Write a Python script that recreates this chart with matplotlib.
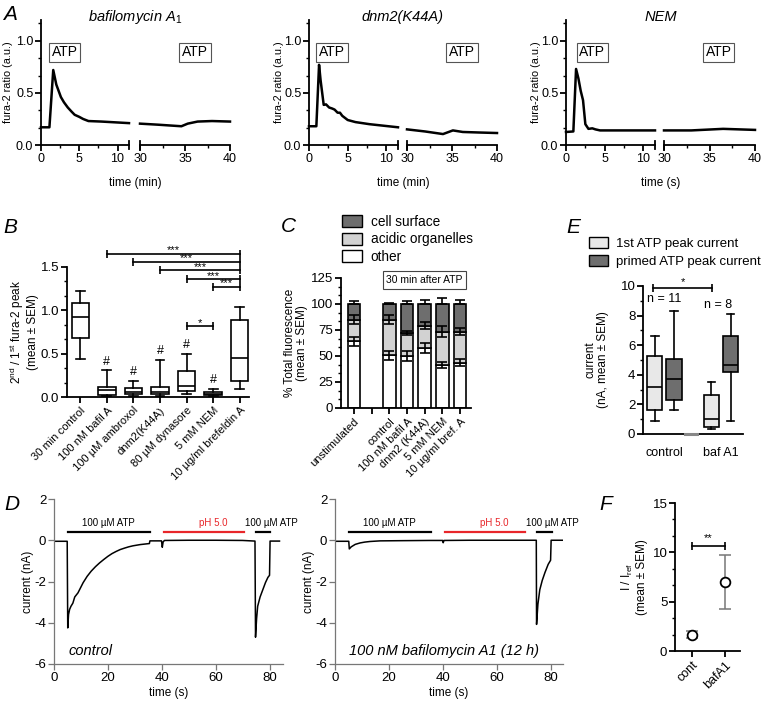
import numpy as np
import matplotlib.pyplot as plt
from matplotlib.patches import Patch
from matplotlib.ticker import MultipleLocator

plt.rcParams['font.family'] = ['Liberation Sans', 'DejaVu Sans']
plt.rcParams['mathtext.fontset'] = 'custom'
plt.rcParams['mathtext.rm'] = 'Liberation Sans'
plt.rcParams['mathtext.it'] = 'Liberation Sans:italic'
plt.rcParams['axes.unicode_minus'] = False
plt.rcParams['font.size'] = 8.5
plt.rcParams['axes.linewidth'] = 1.3
plt.rcParams['xtick.major.width'] = 1.3
plt.rcParams['ytick.major.width'] = 1.3
plt.rcParams['xtick.minor.width'] = 1.0
plt.rcParams['ytick.minor.width'] = 1.0
plt.rcParams['xtick.major.size'] = 4
plt.rcParams['ytick.major.size'] = 4
plt.rcParams['xtick.minor.size'] = 2.5
plt.rcParams['ytick.minor.size'] = 2.5
plt.rcParams['xtick.major.pad'] = 2
plt.rcParams['ytick.major.pad'] = 1.5

# ---- A: fura-2 ratio traces (time in min, ratio) ----
a_titles = ['bafilomycin A$_1$', 'dnm2(K44A)', 'NEM']
a_xlabels = ['time (min)', 'time (min)', 'time (s)']
a_t1 = [[0, 1.1, 1.6, 2.0, 2.6, 3.0, 3.5, 4.0, 4.4, 5.0, 5.5, 6.2, 7.9, 11.5],
        [0, 0.95, 1.3, 1.5, 1.9, 2.2, 2.6, 3.0, 3.3, 3.7, 4.0, 4.3, 5.0, 6.0, 7.8, 11.5],
        [0, 0.95, 1.3, 1.6, 1.9, 2.2, 2.5, 2.9, 3.4, 3.8, 4.4, 11.5]]
a_v1 = [[0.17, 0.17, 0.72, 0.58, 0.46, 0.41, 0.36, 0.32, 0.29, 0.27, 0.25, 0.23, 0.225, 0.21],
        [0.18, 0.18, 0.77, 0.62, 0.385, 0.39, 0.36, 0.35, 0.34, 0.31, 0.31, 0.28, 0.24, 0.22, 0.2, 0.17],
        [0.125, 0.13, 0.73, 0.64, 0.52, 0.43, 0.2, 0.155, 0.16, 0.15, 0.14, 0.14]]
a_t2 = [[30, 32, 34.6, 35.3, 36.4, 38, 40],
        [30, 32, 34, 35.1, 36.2, 38, 40],
        [30, 33, 36.5, 40]]
a_v2 = [[0.205, 0.195, 0.18, 0.205, 0.225, 0.23, 0.225],
        [0.15, 0.13, 0.105, 0.14, 0.125, 0.12, 0.115],
        [0.14, 0.14, 0.155, 0.145]]
a_atp_x = [(3.1, 36.1), (3.0, 36.1), (3.4, 36.0)]

# ---- B: 2nd/1st peak box plots ----
b_labels = ['30 min control', '100 nM bafil A', '100 \u00b5M ambroxol', 'dnm2(K44A)',
            '80 \u00b5M dynasore', '5 mM NEM', '10 \u00b5g/ml brefeldin A']
b_whislo = [0.44, 0.015, 0.015, 0.015, 0.04, 0.015, 0.09]
b_q1 = [0.68, 0.027, 0.03, 0.03, 0.065, 0.025, 0.185]
b_med = [0.92, 0.077, 0.06, 0.055, 0.13, 0.04, 0.445]
b_q3 = [1.085, 0.115, 0.10, 0.12, 0.30, 0.06, 0.885]
b_whishi = [1.22, 0.31, 0.19, 0.43, 0.50, 0.09, 1.04]
b_hash = [None, 0.40, 0.285, 0.53, 0.60, 0.20, None]
b_sig = [(2, 7, 1.65, '***'), (3, 7, 1.56, '***'), (4, 7, 1.46, '***'),
         (5, 7, 1.36, '***'), (6, 7, 1.27, '***'), (5, 6, 0.815, '*')]

# ---- C: % total fluorescence, stacked ----
c_labels = ['unstimulated', '', 'control', '100 nM bafil A', 'dnm2 (K44A)',
            '5 mM NEM', '10 \u00b5g/ml bref. A']
c_pos = [0, 2, 3, 4, 5, 6]
c_other = [64, 50.5, 50, 57.5, 41, 43.5]
c_other_err = [4.3, 4, 5, 5, 3, 3.5]
c_acidic_top = [85, 85, 72.5, 79, 73.5, 73.5]
c_acidic_err = [4, 4.5, 2, 3.5, 5, 3]
c_total = [100, 100, 100, 100, 100, 100]
c_total_err = [2.6, 0.6, 3, 4, 6, 4]

# ---- D: patch clamp current traces (s, nA) ----
d_ctrl_t = [0, 4.9, 5.1, 5.4, 5.8, 6.3, 7.0, 7.7, 8.0, 8.9, 10.8, 12.3, 13.8, 15.4, 16.9, 18.5,
            20, 21.5, 23.1, 24.6, 26.2, 27.7, 29.3, 32, 35.4, 35.6, 39.9, 40.2, 40.5, 41, 50, 60,
            70, 74.6, 74.8, 75.2, 75.6, 76.5, 77.5, 78.5, 79.4, 80.0, 80.2, 83.7]
d_ctrl_v = [-0.05, -0.05, -4.25, -3.6, -3.35, -3.2, -3.05, -2.75, -2.7, -2.55, -2.06, -1.75, -1.5,
            -1.28, -1.1, -0.93, -0.78, -0.65, -0.54, -0.45, -0.38, -0.32, -0.27, -0.21, -0.16, -0.03,
            -0.03, -0.34, -0.08, -0.01, 0.0, 0.0, -0.01, -0.04, -4.7, -3.8, -3.2, -2.75, -2.4, -2.05,
            -1.8, -1.7, -0.04, -0.04]
d_baf_t = [0, 5.1, 5.3, 6.0, 7.5, 9.3, 11, 13, 16.7, 25, 35, 39.9, 40.1, 40.4, 50, 60, 70, 74.6,
           74.7, 75.2, 75.9, 76.8, 77.8, 79.0, 79.9, 80.1, 84.3]
d_baf_v = [-0.05, -0.05, -0.42, -0.32, -0.2, -0.13, -0.09, -0.06, -0.03, -0.02, -0.01, -0.01,
           -0.12, -0.01, 0.0, 0.0, 0.0, 0.0, -4.08, -3.1, -2.4, -1.95, -1.57, -1.17, -0.97, 0.0, 0.0]
d_atp_bars = [(5.2, 35.5), (75, 80.3)]
d_atp_text_x = [20, 80.5]
d_ph_bar = (40.8, 70.5)
d_ph_text_x = 59
d_names = ['control', '100 nM bafilomycin A1 (12 h)']

# ---- E: peak currents ----
e_groups = ['control', 'baf A1']
e_n = ['n = 11', 'n = 8']
e_first = dict(whislo=[0.9, 0.34], q1=[1.6, 0.45], med=[3.17, 1.03], q3=[5.24, 2.65], whishi=[6.63, 3.48])
e_primed = dict(whislo=[1.64, 0.9], q1=[2.31, 4.16], med=[3.7, 4.65], q3=[5.08, 6.63], whishi=[8.34, 8.1])

# ---- F: I / Iref ----
f_labels = ['cont', 'bafA1']
f_mean = [1.63, 6.98]
f_sem = [0.35, 2.7]

W, H = 763, 706
fig = plt.figure(figsize=(W / 100, H / 100), dpi=100)


def px_axes(l, t, r, b):
    return fig.add_axes([l / W, 1 - b / H, (r - l) / W, (b - t) / H])


def prism(ax):
    ax.spines['top'].set_visible(False)
    ax.spines['right'].set_visible(False)


def ylab(ax, text, xpx, width_px, fs=8.5):
    ax.set_ylabel(text, va='center', ha='center', fontsize=fs, linespacing=1.1)
    ax.yaxis.set_label_coords(xpx / width_px, 0.5)


def sig_bar(ax, x1, x2, y, txt, dy, lw=1.2):
    ax.plot([x1, x2], [y, y], color='black', lw=lw, clip_on=False)
    ax.plot([x1, x2], [y, y], ls='none', marker='|', ms=6, mew=lw, color='black', clip_on=False)
    ax.text((x1 + x2) / 2, y + dy, txt, ha='center', va='center', fontsize=8)


letter_kw = dict(fontsize=15, style='italic')

# -------- panel A --------
a_lefts = [(41, 129, 140, 230), (309, 398, 407, 497), (566, 655, 664, 755)]
a_ylab_x = [-33, -30, -30]
for i in range(3):
    l1, r1, l2, r2 = a_lefts[i]
    ax1 = px_axes(l1, 20, r1, 145)
    ax2 = px_axes(l2, 20, r2, 145)
    for ax in (ax1, ax2):
        prism(ax)
        ax.set_ylim(0, 1.2)
        ax.tick_params(labelsize=9)
    ax1.plot(a_t1[i], a_v1[i], color='black', lw=1.8, clip_on=False)
    ax2.plot(a_t2[i], a_v2[i], color='black', lw=1.8, clip_on=False)
    ax1.set_xlim(0, 11.5)
    ax1.set_xticks([0, 5, 10])
    ax1.xaxis.set_minor_locator(MultipleLocator(2.5))
    ax1.set_yticks([0, 0.5, 1.0])
    ax1.set_yticklabels(['0.0', '0.5', '1.0'])
    ax1.yaxis.set_minor_locator(MultipleLocator(0.5 / 3))
    ylab(ax1, 'fura-2 ratio (a.u.)', a_ylab_x[i], r1 - l1, fs=7.8)
    ax2.spines['left'].set_visible(False)
    ax2.set_yticks([])
    ax2.set_xlim(30, 40)
    ax2.set_xticks([30, 35, 40])
    ax2.xaxis.set_minor_locator(MultipleLocator(2.5))
    ax1.plot([11.5, 11.5], [-0.04, 0.04], color='black', lw=1.3, clip_on=False)
    ax2.plot([30, 30], [-0.04, 0.04], color='black', lw=1.3, clip_on=False)
    bbox = dict(boxstyle='square,pad=0.2', fc='white', ec='#555555', lw=0.8)
    ax1.text(a_atp_x[i][0], 0.89, 'ATP', ha='center', va='center', fontsize=10, bbox=bbox)
    ax2.text(a_atp_x[i][1], 0.89, 'ATP', ha='center', va='center', fontsize=10, bbox=bbox)
    xc = (l1 + r2) / 2
    fig.text(xc / W, 1 - 17 / H, a_titles[i], ha='center', va='center', fontsize=10.5, style='italic')
    fig.text(xc / W, 1 - 183 / H, a_xlabels[i], ha='center', va='center', fontsize=8.5)
fig.text(10 / W, 1 - 14 / H, 'A', ha='center', va='center', **letter_kw)

# -------- panel B --------
axB = px_axes(67, 267, 249, 397)
prism(axB)
b_stats = [dict(whislo=b_whislo[k], q1=b_q1[k], med=b_med[k], q3=b_q3[k], whishi=b_whishi[k])
           for k in range(len(b_labels))]
b_x = np.arange(1, len(b_labels) + 1)
axB.bxp(b_stats, positions=b_x, widths=0.66, showfliers=False, patch_artist=True,
        boxprops=dict(facecolor='white', edgecolor='black', lw=1.2),
        medianprops=dict(color='black', lw=1.2),
        whiskerprops=dict(color='black', lw=1.2), capprops=dict(color='black', lw=1.2))
for k in range(len(b_labels)):
    if b_hash[k] is not None:
        axB.text(b_x[k], b_hash[k], '#', ha='center', va='center', fontsize=9)
for x1, x2, y, t in b_sig:
    sig_bar(axB, x1, x2, y, t, 0.04)
axB.set_xlim(0.5, 7.35)
axB.set_ylim(0, 1.5)
axB.set_yticks([0, 0.5, 1.0, 1.5])
axB.set_yticklabels(['0.0', '0.5', '1.0', '1.5'])
axB.yaxis.set_minor_locator(MultipleLocator(0.5 / 3))
axB.set_xticks(b_x)
axB.set_xticklabels(b_labels, rotation=45, ha='right', rotation_mode='anchor', fontsize=8)
axB.tick_params(axis='y', labelsize=9.5)
ylab(axB, '2$^{\\rm nd}$ / 1$^{\\rm st}$ fura-2 peak\n(mean \u00b1 SEM)', -44, 182)
fig.text(10 / W, 1 - 227 / H, 'B', ha='center', va='center', **letter_kw)

# -------- panel C --------
axC = px_axes(341, 278, 471, 408)
prism(axC)
c_dark, c_light = '#6e6e6e', '#d2d2d2'
oth = np.array(c_other)
acd = np.array(c_acidic_top)
tot = np.array(c_total)
axC.bar(c_pos, oth, width=0.72, color='white', edgecolor='black', lw=1.2)
axC.bar(c_pos, acd - oth, bottom=oth, width=0.72, color=c_light, edgecolor='black', lw=1.2)
axC.bar(c_pos, tot - acd, bottom=acd, width=0.72, color=c_dark, edgecolor='black', lw=1.2)
eb = dict(fmt='none', ecolor='black', elinewidth=1.2, capsize=3.5, capthick=1.2)
axC.errorbar(c_pos, oth, yerr=c_other_err, **eb)
axC.errorbar(c_pos, acd, yerr=c_acidic_err, **eb)
axC.errorbar(c_pos, tot, yerr=[np.zeros(len(c_pos)), c_total_err], **eb)
axC.set_xlim(-0.73, 6.62)
axC.set_ylim(0, 125)
axC.set_yticks([0, 25, 50, 75, 100, 125])
axC.yaxis.set_minor_locator(MultipleLocator(25 / 3))
axC.set_xticks(range(7))
axC.set_xticklabels(c_labels, rotation=45, ha='right', rotation_mode='anchor', fontsize=8)
axC.tick_params(axis='y', labelsize=9.5)
axC.text(4.0, 123, '30 min after ATP', ha='center', va='center', fontsize=7.5,
         bbox=dict(boxstyle='square,pad=0.35', fc='white', ec='#444444', lw=0.8))
ylab(axC, '% Total fluorescence\n(mean \u00b1 SEM)', -45, 130)
c_handles = [Patch(fc=c_dark, ec='black', lw=1), Patch(fc=c_light, ec='black', lw=1),
             Patch(fc='white', ec='black', lw=1)]
fig.legend(c_handles, ['cell surface', 'acidic organelles', 'other'], loc='upper left',
           bbox_to_anchor=(342 / W, 1 - 215 / H), frameon=False, fontsize=9.8,
           handlelength=1.5, handleheight=1.0, handletextpad=0.6, labelspacing=0.25,
           borderaxespad=0, borderpad=0)
fig.text(288 / W, 1 - 226 / H, 'C', ha='center', va='center', **letter_kw)

# -------- panel E --------
axE = px_axes(643, 286, 743, 434)
prism(axE)
e_x = np.arange(len(e_groups))
e_off = 0.17
for stats, dx, col in ((e_first, -e_off, '#e8e8e8'), (e_primed, e_off, '#6e6e6e')):
    st = [dict(whislo=stats['whislo'][k], q1=stats['q1'][k], med=stats['med'][k],
               q3=stats['q3'][k], whishi=stats['whishi'][k]) for k in range(len(e_groups))]
    axE.bxp(st, positions=e_x + dx, widths=0.27, showfliers=False, patch_artist=True,
            boxprops=dict(facecolor=col, edgecolor='black', lw=1.2),
            medianprops=dict(color='black', lw=1.2),
            whiskerprops=dict(color='black', lw=1.2), capprops=dict(color='black', lw=1.2))
axE.set_xlim(-0.38, 1.39)
axE.set_ylim(0, 10)
axE.set_yticks([0, 2, 4, 6, 8, 10])
axE.yaxis.set_minor_locator(MultipleLocator(1))
axE.set_xticks(e_x)
axE.set_xticklabels(e_groups, fontsize=9)
axE.tick_params(axis='x', length=0, pad=9)
axE.tick_params(axis='y', labelsize=9.5)
axE.plot([0.36, 0.58], [0, 0], color='#888888', lw=2.2, clip_on=False, zorder=5)
axE.text(0, 9.1, e_n[0], ha='center', va='center', fontsize=9)
axE.text(0.95, 8.7, e_n[1], ha='center', va='center', fontsize=9)
sig_bar(axE, -0.2, 0.84, 9.85, '*', 0.4)
ylab(axE, 'current\n(nA, mean \u00b1 SEM)', -46, 100)
e_handles = [Patch(fc='#e8e8e8', ec='black', lw=1), Patch(fc='#6e6e6e', ec='black', lw=1)]
fig.legend(e_handles, ['1st ATP peak current', 'primed ATP peak current'], loc='upper left',
           bbox_to_anchor=(589 / W, 1 - 237 / H), frameon=False, fontsize=9.5,
           handlelength=1.45, handleheight=0.95, handletextpad=0.6, labelspacing=0.35,
           borderaxespad=0, borderpad=0)
fig.text(573 / W, 1 - 227 / H, 'E', ha='center', va='center', **letter_kw)

# -------- panel D --------
d_traces = [(d_ctrl_t, d_ctrl_v), (d_baf_t, d_baf_v)]
d_boxes = [(54, 283, 85), (335, 563, 84.5)]
for i in range(2):
    l, r, xmax = d_boxes[i]
    ax = px_axes(l, 499, r, 664)
    prism(ax)
    for s in ('left', 'bottom'):
        ax.spines[s].set_color('#777777')
        ax.spines[s].set_linewidth(0.9)
    ax.tick_params(color='#777777', width=0.9, labelsize=9.5)
    t, v = d_traces[i]
    ax.plot(t, v, color='black', lw=1.1)
    for (a, b), tx in zip(d_atp_bars, d_atp_text_x):
        ax.plot([a, b], [0.42, 0.42], color='black', lw=1.6)
        ax.text(tx, 0.85, '100 \u00b5M ATP', ha='center', va='center', fontsize=7)
    ax.plot(d_ph_bar, [0.42, 0.42], color='#e8262a', lw=1.6)
    ax.text(d_ph_text_x, 0.85, 'pH 5.0', ha='center', va='center', fontsize=7, color='#e8262a')
    ax.text(5.3, -5.35, d_names[i], ha='left', va='center', fontsize=10.5, style='italic')
    ax.set_xlim(0, xmax)
    ax.set_ylim(-6, 2)
    ax.set_xticks([0, 20, 40, 60, 80])
    ax.set_yticks([-6, -4, -2, 0, 2])
    ax.set_xlabel('time (s)', fontsize=8.5, labelpad=2)
    ylab(ax, 'current (nA)', -26, r - l)
fig.text(12 / W, 1 - 504 / H, 'D', ha='center', va='center', **letter_kw)

# -------- panel F --------
axF = px_axes(675, 503, 740, 651)
prism(axF)
f_x = np.arange(len(f_labels))
axF.errorbar(f_x, f_mean, yerr=f_sem, fmt='none', ecolor='#777777', elinewidth=1.1,
             capsize=4, capthick=1.1)
axF.plot(f_x, f_mean, ls='none', marker='o', ms=7, mfc='white', mec='black', mew=1.3)
sig_bar(axF, 0, 1, 10.65, '**', 0.75)
axF.set_xlim(-0.52, 1.45)
axF.set_ylim(0, 15)
axF.set_yticks([0, 5, 10, 15])
axF.yaxis.set_minor_locator(MultipleLocator(5 / 3))
axF.set_xticks(f_x)
axF.set_xticklabels(f_labels, rotation=45, ha='right', rotation_mode='anchor', fontsize=9)
axF.tick_params(axis='y', labelsize=9.5)
ylab(axF, 'I / I$_{\\rm ref}$\n(mean \u00b1 SEM)', -41, 65)
fig.text(606 / W, 1 - 504 / H, 'F', ha='center', va='center', **letter_kw)

fig.savefig('out.png', dpi=100)
